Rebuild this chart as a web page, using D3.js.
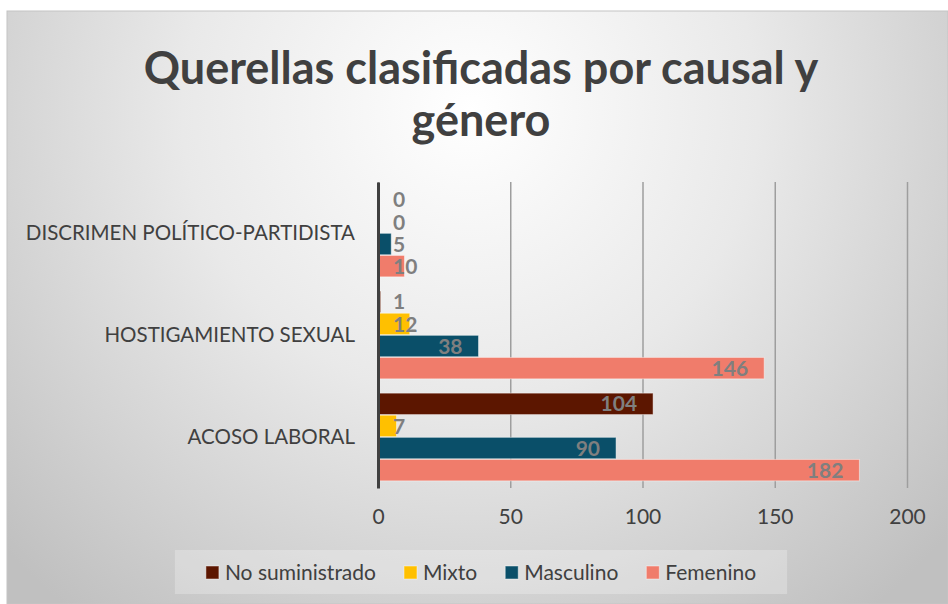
<!DOCTYPE html>
<html>
<head>
<meta charset="utf-8">
<script src="https://cdn.jsdelivr.net/npm/d3@7"></script>
<style>
    body { margin: 0; background: #ffffff; }
    #chart { width: 948px; height: 604px; }
    text { font-family: Lato, "Open Sans", sans-serif; }
</style>
</head>
<body>
<div id="chart"></div>
<script>
// categories, bottom to top as in the reference
const categories = ["ACOSO LABORAL", "HOSTIGAMIENTO SEXUAL", "DISCRIMEN POLÍTICO-PARTIDISTA"];
const seriesNames = ["No suministrado", "Mixto", "Masculino", "Femenino"];

// values per category (same order as categories)
const noSuministrado = [104, 1, 0];
const mixto = [7, 12, 0];
const masculino = [90, 38, 5];
const femenino = [182, 146, 10];

const xTicks = [0, 50, 100, 150, 200];
const seriesColors = ["#5c1600", "#ffc000", "#0a4f69", "#f07c6b"];

const titleLines = ["Querellas clasificadas por causal y", "género"];

class BarVis {

    constructor(parentElement) {
        this.parentElement = parentElement;
        this.initVis();
    }

    initVis() {
        let vis = this;

        vis.width = 948;
        vis.height = 604;

        vis.svg = d3.select("#" + vis.parentElement).append("svg")
            .attr("width", vis.width)
            .attr("height", vis.height);

        // background gradient like the office chart style
        let defs = vis.svg.append("defs");
        let grad = defs.append("radialGradient")
            .attr("id", "bg")
            .attr("gradientUnits", "userSpaceOnUse")
            .attr("cx", 470).attr("cy", 110).attr("r", 640);
        grad.append("stop").attr("offset", "0%").attr("stop-color", "#ffffff");
        grad.append("stop").attr("offset", "45%").attr("stop-color", "#e9e9e9");
        grad.append("stop").attr("offset", "100%").attr("stop-color", "#c0c0c0");

        vis.svg.append("rect")
            .attr("x", 7).attr("y", 11)
            .attr("width", vis.width - 7).attr("height", vis.height - 11)
            .attr("fill", "url(#bg)")
            .attr("stroke", "#c4c4c4")
            .attr("stroke-width", 1);

        // scales
        vis.x = d3.scaleLinear().domain([0, 200]).range([378, 907]);

        vis.y = d3.scaleBand()
            .domain(categories.slice().reverse())
            .range([182, 488])
            .paddingInner(0.14)
            .paddingOuter(0.07);

        vis.ySub = d3.scaleBand()
            .domain(seriesNames)
            .range([0, vis.y.bandwidth()])
            .paddingInner(0.03);

        vis.wrangleData();
    }

    wrangleData() {
        let vis = this;
        let cols = [noSuministrado, mixto, masculino, femenino];

        vis.displayData = [];
        categories.forEach((c, i) => {
            seriesNames.forEach((s, j) => {
                vis.displayData.push({cat: c, series: s, value: cols[j][i], color: seriesColors[j]});
            });
        });

        vis.updateVis();
    }

    updateVis() {
        let vis = this;

        // title
        vis.svg.selectAll(".title")
            .data(titleLines)
            .enter()
            .append("text")
            .attr("class", "title")
            .attr("x", 481)
            .attr("y", (d, i) => 84 + i * 52)
            .attr("text-anchor", "middle")
            .attr("font-size", 45)
            .attr("font-weight", 700)
            .attr("fill", "#404040")
            .text(d => d);

        // gridlines (run a bit below the plot as tick marks)
        vis.svg.append("g")
            .attr("transform", "translate(0,488)")
            .call(d3.axisBottom(vis.x).tickValues(xTicks).tickSize(-306).tickFormat(""))
            .call(g => g.select(".domain").remove())
            .call(g => g.selectAll("line").attr("stroke", "#9e9e9e").attr("stroke-width", 1.5));

        // tick labels
        vis.svg.append("g")
            .attr("transform", "translate(0,488)")
            .call(d3.axisBottom(vis.x).tickValues(xTicks).tickSize(0).tickPadding(21))
            .call(g => g.select(".domain").remove())
            .call(g => g.selectAll("text")
                .attr("font-size", 21)
                .attr("fill", "#404040")
                .style("font-family", "Lato, sans-serif"));

        // bars
        vis.svg.selectAll(".bar")
            .data(vis.displayData)
            .enter()
            .append("rect")
            .attr("class", "bar")
            .attr("x", vis.x(0))
            .attr("y", d => vis.y(d.cat) + vis.ySub(d.series))
            .attr("width", d => vis.x(d.value) - vis.x(0))
            .attr("height", vis.ySub.bandwidth())
            .attr("fill", d => d.color)
            .attr("stroke", d => d.value > 0 ? "rgba(255,255,255,0.45)" : "none")
            .attr("stroke-width", 1);

        // category axis
        vis.svg.append("g")
            .attr("transform", `translate(${vis.x(0)},0)`)
            .call(d3.axisLeft(vis.y).tickSize(0).tickPadding(23))
            .call(g => g.select(".domain").attr("stroke", "#404040").attr("stroke-width", 3))
            .call(g => g.selectAll("text")
                .attr("font-size", 20.5)
                .attr("fill", "#404040")
                .style("font-family", "Lato, sans-serif"));

        // data labels
        vis.svg.selectAll(".lbl")
            .data(vis.displayData)
            .enter()
            .append("text")
            .attr("class", "lbl")
            .attr("y", d => vis.y(d.cat) + vis.ySub(d.series) + vis.ySub.bandwidth() / 2)
            .attr("dy", "0.36em")
            .attr("font-size", 21)
            .attr("font-weight", 700)
            .attr("fill", "#7f7f7f")
            .text(d => d.value)
            .each(function (d) {
                let w = this.getComputedTextLength();
                let end = vis.x(d.value) - 16;
                if (end - w >= vis.x(0) + 15) {
                    d3.select(this).attr("x", end).attr("text-anchor", "end");
                } else {
                    d3.select(this).attr("x", vis.x(0) + 15).attr("text-anchor", "start");
                }
            });

        // legend
        let legend = vis.svg.append("g").attr("class", "legend");
        let legendBox = legend.append("rect")
            .attr("fill", "rgba(255,255,255,0.25)");

        let cursor = 0;
        seriesNames.forEach((s, i) => {
            let item = legend.append("g");
            item.append("rect")
                .attr("x", 0).attr("y", -7)
                .attr("width", 13).attr("height", 13)
                .attr("fill", seriesColors[i])
                .attr("stroke", "rgba(255,255,255,0.45)");
            let t = item.append("text")
                .attr("x", 19).attr("dy", "0.35em")
                .attr("font-size", 21)
                .attr("fill", "#404040")
                .text(s);
            item.attr("transform", `translate(${cursor},0)`);
            cursor += 19 + t.node().getComputedTextLength() + 28;
        });
        let legendWidth = cursor - 28;
        let lx = 481 - legendWidth / 2;
        legend.attr("transform", `translate(${lx},573)`);
        legendBox
            .attr("x", -31).attr("y", -23)
            .attr("width", legendWidth + 62).attr("height", 44);
    }
}

let barVis = new BarVis("chart");
</script>
</body>
</html>
